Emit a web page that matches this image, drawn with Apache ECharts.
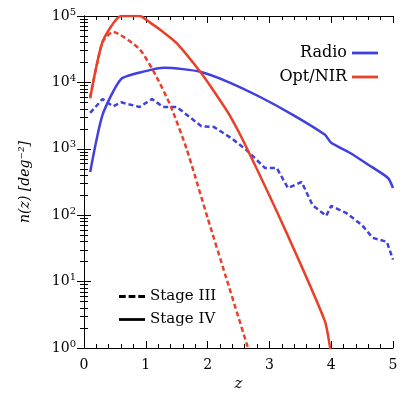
<!DOCTYPE html>
<html>
<head>
<meta charset="utf-8">
<script src="https://cdn.jsdelivr.net/npm/echarts@6/dist/echarts.min.js"></script>
<style>html,body{margin:0;padding:0;background:#fff}#chart{width:415px;height:415px}</style>
</head>
<body>
<div id="chart"></div>
<script>
// log10 n(z), as [z, log10 n]
var radioIV = [[0.1,2.65],[0.3,3.51],[0.6,4.05],[1.0,4.17],[1.3,4.22],[1.6,4.2],[1.88,4.16],[2.3,4.02],[2.85,3.78],[3.4,3.5],[3.9,3.21],[4.0,3.09],[4.3,2.94],[4.6,2.76],[4.92,2.56],[5.0,2.41]];
var radioIII = [[0.1,3.54],[0.3,3.75],[0.47,3.64],[0.6,3.7],[0.9,3.63],[1.1,3.75],[1.28,3.63],[1.5,3.63],[1.9,3.34],[2.1,3.33],[2.4,3.15],[2.63,2.98],[2.93,2.71],[3.12,2.71],[3.3,2.41],[3.52,2.5],[3.7,2.15],[3.92,1.99],[4.0,2.14],[4.25,2.03],[4.5,1.85],[4.67,1.66],[4.9,1.6],[5.0,1.33]];
var optIV = [[0.1,3.76],[0.3,4.61],[0.6,5.0],[0.9,5.0],[1.07,4.9],[1.28,4.76],[1.5,4.59],[1.88,4.16],[2.1,3.87],[2.36,3.5],[2.63,3.02],[3.28,1.73],[3.9,0.4],[3.98,0.02],[4.05,-0.3]];
var optIII = [[0.1,3.78],[0.3,4.61],[0.47,4.76],[0.9,4.5],[1.17,4.09],[1.4,3.65],[1.66,3.0],[2.0,1.96],[2.3,1.06],[2.7,-0.14]];

function toN(arr) { return arr.map(function (p) { return [p[0], Math.pow(10, p[1])]; }); }

var BLUE = '#4040e0', RED = '#e8402a';
var font = 'DejaVu Serif';
var LINE_ICON = 'path://M0,0 L28,0 L28,3 L0,3 Z';

var tickX = {inside: true, length: 7, lineStyle: {color: '#000'}};
var tickY = {inside: true, length: 7, lineStyle: {color: '#000'}};

var chart = echarts.init(document.getElementById('chart'));
chart.setOption({
	animation: false,
	textStyle: {fontFamily: font, color: '#000'},
	grid: {left: 84, right: 22, top: 16, bottom: 67},
	legend: [{
		data: [{name: 'Radio', icon: LINE_ICON}, {name: 'Opt/NIR', icon: LINE_ICON}],
		orient: 'vertical', right: 32, top: 40, align: 'right',
		itemWidth: 26, itemHeight: 3, itemGap: 8,
		textStyle: {fontFamily: font, fontSize: 16, color: '#000'}
	}, {
		data: [{name: 'Stage III', icon: 'path://M0,0 L7,0 L7,3 L0,3 Z M10,0 L17,0 L17,3 L10,3 Z M20,0 L27,0 L27,3 L20,3 Z'}, {name: 'Stage IV', icon: LINE_ICON}],
		orient: 'vertical', left: 114, top: 284, align: 'left',
		itemWidth: 26, itemHeight: 3, itemGap: 8,
		textStyle: {fontFamily: font, fontSize: 15, color: '#000'}
	}],
	xAxis: [{
		type: 'value', min: 0, max: 5, interval: 1,
		name: 'z', nameLocation: 'middle', nameGap: 28,
		nameTextStyle: {fontFamily: font, fontStyle: 'italic', fontSize: 15},
		axisLine: {lineStyle: {color: '#000', width: 1}},
		axisTick: tickX,
		minorTick: {show: true, splitNumber: 5, length: 4, lineStyle: {color: '#000'}},
		axisLabel: {fontFamily: font, fontSize: 14, color: '#000', margin: 10},
		splitLine: {show: false}
	}, {
		type: 'value', min: 0, max: 5, interval: 1, position: 'top',
		axisLine: {lineStyle: {color: '#000', width: 1}},
		axisTick: tickX,
		minorTick: {show: true, splitNumber: 5, length: 4, lineStyle: {color: '#000'}},
		axisLabel: {show: false}, splitLine: {show: false}
	}],
	yAxis: [{
		type: 'log', logBase: 10, min: 1, max: 100000,
		name: 'n(z) [deg\u207B\u00B2]', nameLocation: 'middle', nameGap: 52,
		nameTextStyle: {fontFamily: font, fontStyle: 'italic', fontSize: 14},
		axisLine: {lineStyle: {color: '#000', width: 1}},
		axisTick: tickY,
		minorTick: {show: true, splitNumber: 9, length: 4, lineStyle: {color: '#000'}},
		axisLabel: {
			fontFamily: font, fontSize: 14, color: '#000', margin: 8,
			formatter: function (v) { return '10{s|' + Math.round(Math.log10(v)) + '}'; },
			rich: {s: {fontFamily: font, fontSize: 10, verticalAlign: 'top', padding: [0, 0, 8, 0]}}
		},
		splitLine: {show: false}
	}, {
		type: 'log', logBase: 10, min: 1, max: 100000, position: 'right',
		axisLine: {lineStyle: {color: '#000', width: 1}},
		axisTick: tickY,
		minorTick: {show: true, splitNumber: 9, length: 4, lineStyle: {color: '#000'}},
		axisLabel: {show: false}, splitLine: {show: false}
	}],
	series: [
		{name: 'Radio', type: 'line', data: [], color: BLUE},
		{name: 'Opt/NIR', type: 'line', data: [], color: RED},
		{name: 'Stage III', type: 'line', data: [], color: '#000'},
		{name: 'Stage IV', type: 'line', data: [], color: '#000'},
		{type: 'line', data: toN(radioIV), smooth: 0.2, showSymbol: false, clip: true, lineStyle: {color: BLUE, width: 2.5}},
		{type: 'line', data: toN(radioIII), showSymbol: false, clip: true, lineStyle: {color: BLUE, width: 2.5, type: [5, 3]}},
		{type: 'line', data: toN(optIV), smooth: 0.2, showSymbol: false, clip: true, lineStyle: {color: RED, width: 2.5}},
		{type: 'line', data: toN(optIII), smooth: 0.2, showSymbol: false, clip: true, lineStyle: {color: RED, width: 2.5, type: [5, 3]}}
	]
});
window.addEventListener('resize', function () { chart.resize(); });
</script>
</body>
</html>
